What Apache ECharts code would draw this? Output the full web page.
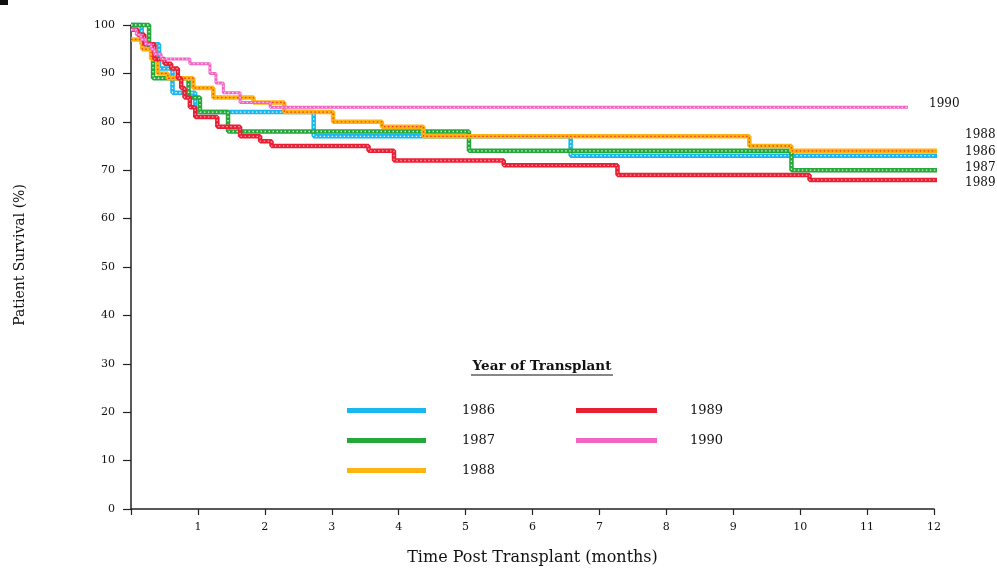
<!DOCTYPE html>
<html>
<head>
<meta charset="utf-8">
<script src="https://cdn.jsdelivr.net/npm/echarts@6/dist/echarts.min.js"></script>
<style>
  html, body { margin: 0; padding: 0; background: #fff; }
  #chart { width: 997px; height: 569px; }
</style>
</head>
<body>
<div id="chart"></div>
<script>
// Kaplan-Meier style patient survival by year of transplant (step curves)
const years = ['1986', '1987', '1988', '1989', '1990'];

const months1986 = [0, 0.16, 0.42, 0.62, 0.96, 2.73, 6.57, 12.15];
const survival1986 = [100, 96, 91, 86, 82, 77, 73, 73];

const months1987 = [0, 0.27, 0.33, 0.86, 1.03, 1.45, 5.05, 9.87, 12.15];
const survival1987 = [100, 95, 89, 85, 82, 78, 74, 70, 70];

const months1988 = [0, 0.17, 0.3, 0.4, 0.55, 0.93, 1.23, 1.83, 2.29, 3.02, 3.75, 4.37, 9.24, 9.87, 12.15];
const survival1988 = [97, 95, 93, 90, 89, 87, 85, 84, 82, 80, 79, 77, 75, 74, 74];

const months1989 = [0, 0.1, 0.2, 0.35, 0.5, 0.6, 0.7, 0.75, 0.8, 0.88, 0.96, 1.29, 1.63, 1.93, 2.1, 3.55, 3.93, 5.57, 7.27, 10.14, 12.15];
const survival1989 = [99, 98, 96, 93, 92, 91, 89, 87, 85, 83, 81, 79, 77, 76, 75, 74, 72, 71, 69, 68, 68];

const months1990 = [0, 0.08, 0.15, 0.22, 0.3, 0.35, 0.45, 0.88, 1.18, 1.27, 1.38, 1.63, 2.08, 11.61];
const survival1990 = [99, 98, 97, 96, 95, 94, 93, 92, 90, 88, 86, 84, 83, 83];

const xTicks = [0, 1, 2, 3, 4, 5, 6, 7, 8, 9, 10, 11, 12];
const yTicks = [0, 10, 20, 30, 40, 50, 60, 70, 80, 90, 100];

const curves = [
  { name: '1986', x: months1986, y: survival1986, base: '#19b8ee', dots: '#d8f4ff', width: 4.5 },
  { name: '1987', x: months1987, y: survival1987, base: '#25a83a', dots: '#d6f5d0', width: 4.5 },
  { name: '1988', x: months1988, y: survival1988, base: '#ffb312', dots: '#ef3b24', width: 4.5 },
  { name: '1989', x: months1989, y: survival1989, base: '#ea1f34', dots: '#ff9aa6', width: 4.5 },
  { name: '1990', x: months1990, y: survival1990, base: '#f264c4', dots: '#fcc8ec', width: 3 }
];

const serif = '"DejaVu Serif", "Liberation Serif", serif';

function pairs(xs, ys) {
  return xs.map((m, i) => [m, ys[i]]);
}

const series = [];
curves.forEach((c, k) => {
  const data = pairs(c.x, c.y);
  // solid coloured band
  series.push({
    name: c.name, type: 'line', step: 'end', data: data,
    symbol: 'none', clip: false, z: 2 + k,
    lineStyle: { color: c.base, width: c.width },
    itemStyle: { color: c.base },
    silent: true, animation: false
  });
  // dotted texture running along the band
  series.push({
    name: c.name, type: 'line', step: 'end', data: data,
    symbol: 'none', clip: false, z: 2 + k,
    lineStyle: { color: c.dots, width: 1.3, type: [1.5, 2.5] },
    itemStyle: { color: c.base },
    silent: true, animation: false
  });
});

// right-hand curve labels
const endLabels = [
  { text: '1990', x: 929, y: 104 },
  { text: '1988', x: 965, y: 135 },
  { text: '1986', x: 965, y: 152 },
  { text: '1987', x: 965, y: 168 },
  { text: '1989', x: 965, y: 183 }
];

function legendItems(names) {
  return names.map(n => {
    const c = curves.find(cv => cv.name === n);
    return { name: n, icon: 'rect', itemStyle: { color: c.base } };
  });
}

const chart = echarts.init(document.getElementById('chart'), null, { renderer: 'canvas' });

chart.setOption({
  backgroundColor: '#ffffff',
  animation: false,
  grid: { left: 131, right: 63, top: 25, bottom: 60, containLabel: false, outerBoundsMode: 'none' },
  xAxis: {
    type: 'value', min: xTicks[0], max: xTicks[xTicks.length - 1], interval: 1,
    name: 'Time Post Transplant (months)', nameLocation: 'middle', nameGap: 41,
    nameTextStyle: { fontFamily: serif, fontSize: 16, color: '#111' },
    axisLine: { lineStyle: { color: '#222', width: 1.5 } },
    axisTick: { show: true, length: 6, lineStyle: { color: '#222', width: 1.2 } },
    axisLabel: {
      fontFamily: serif, fontSize: 11, color: '#111', margin: 13,
      formatter: v => (v === 0 ? '' : String(v))
    },
    splitLine: { show: false }
  },
  yAxis: {
    type: 'value', min: yTicks[0], max: yTicks[yTicks.length - 1], interval: 10,
    name: 'Patient Survival (%)', nameLocation: 'middle', nameGap: 104, nameRotate: 90,
    nameTextStyle: { fontFamily: serif, fontSize: 14, color: '#111', padding: [0, 0, 0, 24] },
    axisLine: { show: true, lineStyle: { color: '#222', width: 1.5 } },
    axisTick: { show: true, length: 8, lineStyle: { color: '#222', width: 1.2 } },
    axisLabel: { fontFamily: serif, fontSize: 11, color: '#111', margin: 16 },
    splitLine: { show: false }
  },
  legend: [
    {
      data: legendItems(['1986', '1987', '1988']), orient: 'vertical', left: 342, top: 399,
      itemWidth: 79, itemHeight: 5, itemGap: 17, selectedMode: false,
      textStyle: { fontFamily: serif, fontSize: 13, color: '#111', padding: [0, 0, 0, 31] }
    },
    {
      data: legendItems(['1989', '1990']), orient: 'vertical', left: 571, top: 399,
      itemWidth: 81, itemHeight: 5, itemGap: 17, selectedMode: false,
      textStyle: { fontFamily: serif, fontSize: 13, color: '#111', padding: [0, 0, 0, 28] }
    }
  ],
  graphic: [
    { type: 'rect', left: 0, top: 0, shape: { width: 8, height: 5 }, style: { fill: '#111' } },
    {
      type: 'text', x: 542, y: 366,
      style: { text: 'Year of Transplant', font: 'bold 13.5px ' + serif, fill: '#111', align: 'center', verticalAlign: 'middle' }
    },
    { type: 'line', shape: { x1: 471, y1: 375, x2: 613, y2: 375 }, style: { stroke: '#111', lineWidth: 1.2 } }
  ].concat(endLabels.map(l => ({
    type: 'text', x: l.x, y: l.y,
    style: { text: l.text, font: '12px ' + serif, fill: '#111', verticalAlign: 'middle' }
  }))),
  series: series
});
</script>
</body>
</html>
